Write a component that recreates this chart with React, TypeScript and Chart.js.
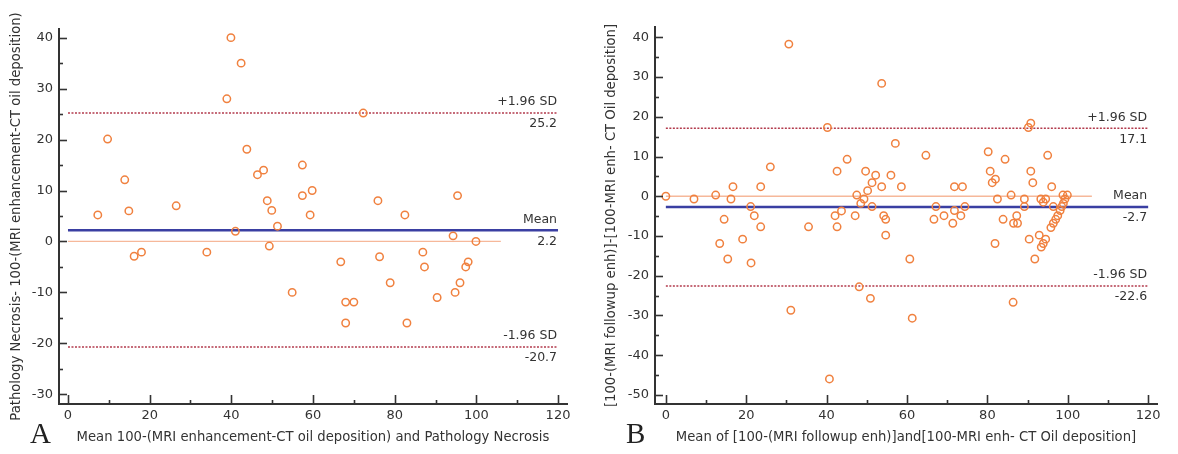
import React, { useEffect, useRef } from "react";
import { Chart, registerables } from "chart.js";

Chart.register(...registerables);

// ---------- Data: panel A ----------
const leftMeanX = [7.3, 9.7, 13.9, 14.9, 16.2, 18.0, 26.5, 34.0, 38.9, 39.9, 41.0, 42.4, 43.8, 46.4, 47.9, 48.8, 49.3, 49.9, 51.3, 54.9, 57.4, 57.4, 59.3, 59.8, 66.8, 68.0, 68.0, 70.0, 72.3, 75.9, 76.3, 78.9, 82.5, 83.0, 86.9, 87.3, 90.4, 94.3, 94.8, 95.4, 96.0, 97.4, 98.0, 99.9];
const leftDiffY = [5.2, 20.1, 12.1, 6.0, -2.9, -2.1, 7.0, -2.1, 28.0, 40.0, 2.0, 35.0, 18.1, 13.1, 14.0, 8.0, -0.9, 6.1, 3.0, -10.0, 15.0, 9.0, 5.2, 10.0, -4.0, -11.9, -16.0, -11.9, 25.2, 8.0, -3.0, -8.1, 5.2, -16.0, -2.1, -5.0, -11.0, 1.1, -10.0, 9.0, -8.1, -5.0, -4.0, 0.0];
const leftLimits = [25.2, 2.2, -20.7];

// ---------- Data: panel B ----------
const rightMeanX = [0, 7.0, 12.4, 13.4, 14.5, 15.4, 16.2, 16.7, 19.1, 21.1, 21.2, 22.0, 23.6, 23.6, 26.0, 30.6, 31.1, 35.5, 40.2, 40.7, 42.1, 42.6, 42.6, 43.7, 45.1, 47.1, 47.5, 48.1, 48.5, 49.3, 49.7, 50.2, 50.9, 51.3, 51.3, 52.2, 53.7, 53.7, 54.2, 54.7, 54.7, 56.0, 57.1, 58.6, 60.7, 61.3, 64.7, 66.7, 67.2, 69.2, 71.4, 71.8, 71.8, 73.4, 73.8, 74.4, 80.2, 80.7, 81.2, 81.9, 82.0, 82.5, 83.9, 84.4, 85.9, 86.4, 86.5, 87.3, 87.5, 89.2, 89.2, 90.2, 90.4, 90.8, 90.8, 91.3, 91.8, 92.9, 93.3, 93.4, 93.9, 93.9, 94.5, 94.5, 95.0, 96.0, 96.4, 95.8, 96.4, 97.0, 97.5, 98.1, 98.5, 98.9, 99.3, 98.8, 99.9];
const rightDiffY = [0, -0.7, 0.3, -11.9, -5.8, -15.8, -0.7, 2.4, -10.8, -2.6, -16.8, -4.9, 2.4, -7.7, 7.4, 38.3, -28.7, -7.7, 17.3, -46.0, -4.9, -7.7, 6.3, -3.7, 9.3, -4.9, 0.3, -22.8, -1.8, -0.7, 6.3, 1.4, -25.7, 3.4, -2.6, 5.3, 2.4, 28.4, -4.9, -5.8, -9.8, 5.3, 13.3, 2.4, -15.8, -30.7, 10.3, -5.8, -2.6, -4.9, -6.8, 2.4, -3.6, -4.9, 2.4, -2.6, 11.2, 6.3, 3.4, -11.9, 4.3, -0.7, -5.8, 9.3, 0.3, -26.7, -6.8, -4.9, -6.8, -0.7, -2.6, 17.3, -10.8, 18.4, 6.3, 3.4, -15.8, -9.8, -0.7, -12.8, -1.5, -11.9, -0.7, -10.8, 10.3, 2.4, -2.6, -7.9, -6.8, -5.8, -4.9, -3.6, -2.6, -1.8, -0.7, 0.3, 0.3];
const rightLimits = [17.1, -2.7, -22.6];

// ---------- Labels / ticks ----------
const limitNames = ["+1.96 SD", "Mean", "-1.96 SD"];
const xTickValues = [0, 20, 40, 60, 80, 100, 120];
const leftYTickValues = [-30, -20, -10, 0, 10, 20, 30, 40];
const rightYTickValues = [-50, -40, -30, -20, -10, 0, 10, 20, 30, 40];
const zeroLineEnd = 106;
const limitLineStart = 0;
const limitLineEnd = 120;

const leftTitles = {
  x: "Mean 100-(MRI enhancement-CT oil deposition) and Pathology Necrosis",
  y: "Pathology Necrosis- 100-(MRI enhancement-CT oil deposition)",
};
const rightTitles = {
  x: "Mean of [100-(MRI followup enh)]and[100-MRI enh- CT Oil deposition]",
  y: "[100-(MRI followup enh)]-[100-MRI enh- CT Oil deposition]",
};

const ORANGE = "#f0813f";
const BLUE = "#3a3fa2";
const SALMON = "#f6b89a";
const SDRED = "#b23a4c";
const AXIS = "#333333";
const FONT = "'DejaVu Sans', sans-serif";
const TITLE_SIZE = 13.2;

const innerTicksPlugin = {
  id: "innerTicks",
  afterDraw(chart: any) {
    const ctx = chart.ctx;
    const xs = chart.scales.x;
    const ys = chart.scales.y;
    const area = chart.chartArea;
    ctx.save();
    ctx.strokeStyle = AXIS;
    ctx.lineWidth = 1.6;
    const xv = xs.ticks.map((t: any) => t.value);
    const yv = ys.ticks.map((t: any) => t.value);
    const seg = (a: number, b: number, c: number, d: number) => {
      ctx.beginPath();
      ctx.moveTo(a, b);
      ctx.lineTo(c, d);
      ctx.stroke();
    };
    xv.forEach((v: number, i: number) => {
      const p = Math.round(xs.getPixelForValue(v)) + 0.5;
      seg(p, area.bottom, p, area.bottom - 9);
      if (i < xv.length - 1) {
        const m = Math.round(xs.getPixelForValue((v + xv[i + 1]) / 2)) + 0.5;
        seg(m, area.bottom, m, area.bottom - 4);
      }
    });
    yv.forEach((v: number, i: number) => {
      const p = Math.round(ys.getPixelForValue(v)) + 0.5;
      seg(area.left, p, area.left + 8, p);
      if (i < yv.length - 1) {
        const m = Math.round(ys.getPixelForValue((v + yv[i + 1]) / 2)) + 0.5;
        seg(area.left, m, area.left + 4, m);
      }
    });
    ctx.restore();
  },
};

const limitLabelsPlugin = {
  id: "limitLabels",
  afterDraw(chart: any, _args: any, opts: any) {
    const ctx = chart.ctx;
    const xs = chart.scales.x;
    const ys = chart.scales.y;
    const limits: number[] = opts.limits;
    ctx.save();
    ctx.fillStyle = AXIS;
    ctx.font = `12.5px ${FONT}`;
    ctx.textAlign = "right";
    ctx.textBaseline = "middle";
    const xr = xs.getPixelForValue(limitLineEnd) - 1;
    limits.forEach((v, i) => {
      const py = ys.getPixelForValue(v);
      ctx.fillText(limitNames[i], xr, py - 11);
      ctx.fillText(v.toFixed(1), xr, py + 11);
    });
    ctx.restore();
  },
};

function buildConfig(
  xsData: number[],
  ysData: number[],
  limits: number[],
  yTicks: number[],
  xRange: [number, number],
  yRange: [number, number],
  titles: { x: string; y: string },
  layoutPad: { top: number; right: number },
  yWidth: number,
  yTitlePad: number
): any {
  const pts = xsData.map((x, i) => ({ x, y: ysData[i] }));
  const hline = (v: number, x0: number, x1: number) => [
    { x: x0, y: v },
    { x: x1, y: v },
  ];
  return {
    type: "scatter",
    data: {
      datasets: [
        {
          data: pts,
          pointStyle: "circle",
          pointRadius: 3.7,
          pointBorderWidth: 1.5,
          borderColor: ORANGE,
          backgroundColor: "rgba(0,0,0,0)",
          showLine: false,
        },
        {
          data: hline(limits[1], limitLineStart, limitLineEnd),
          showLine: true,
          borderColor: BLUE,
          borderWidth: 2.5,
          pointRadius: 0,
        },
        {
          data: hline(limits[0], limitLineStart, limitLineEnd),
          showLine: true,
          borderColor: SDRED,
          borderWidth: 1.4,
          borderDash: [2, 1.5],
          pointRadius: 0,
        },
        {
          data: hline(limits[2], limitLineStart, limitLineEnd),
          showLine: true,
          borderColor: SDRED,
          borderWidth: 1.4,
          borderDash: [2, 1.5],
          pointRadius: 0,
        },
        {
          data: hline(0, 0, zeroLineEnd),
          showLine: true,
          borderColor: SALMON,
          borderWidth: 1.3,
          pointRadius: 0,
        },
      ],
    },
    options: {
      responsive: false,
      animation: false,
      devicePixelRatio: 1,
      layout: { padding: { left: 0, top: layoutPad.top, right: layoutPad.right, bottom: 0 } },
      plugins: {
        legend: { display: false },
        tooltip: { enabled: false },
        limitLabels: { limits },
      },
      scales: {
        x: {
          type: "linear",
          min: xRange[0],
          max: xRange[1],
          afterBuildTicks: (s: any) => {
            s.ticks = xTickValues.map((v) => ({ value: v }));
          },
          afterFit: (s: any) => {
            s.height = 50;
          },
          grid: { display: false, drawTicks: false },
          border: { display: true, color: AXIS, width: 2 },
          ticks: {
            padding: 4,
            color: AXIS,
            font: { family: FONT, size: 13 },
            maxRotation: 0,
            autoSkip: false,
          },
          title: {
            display: true,
            text: titles.x,
            color: AXIS,
            font: { family: FONT, size: TITLE_SIZE },
            padding: { top: 0, bottom: 9 },
          },
        },
        y: {
          type: "linear",
          min: yRange[0],
          max: yRange[1],
          afterBuildTicks: (s: any) => {
            s.ticks = yTicks.map((v) => ({ value: v }));
          },
          afterFit: (s: any) => {
            s.width = yWidth;
          },
          grid: { display: false, drawTicks: false },
          border: { display: true, color: AXIS, width: 2 },
          ticks: {
            padding: 6,
            color: AXIS,
            font: { family: FONT, size: 13 },
            autoSkip: false,
          },
          title: {
            display: true,
            text: titles.y,
            color: AXIS,
            font: { family: FONT, size: TITLE_SIZE },
            padding: { top: yTitlePad, bottom: 0 },
          },
        },
      },
    },
    plugins: [innerTicksPlugin, limitLabelsPlugin],
  };
}

function Panel(props: { config: any; left: number }) {
  const ref = useRef<HTMLCanvasElement | null>(null);
  useEffect(() => {
    if (!ref.current) return;
    const chart = new Chart(ref.current, props.config);
    return () => chart.destroy();
  }, []);
  return (
    <canvas
      ref={ref}
      width={589}
      height={454}
      style={{ position: "absolute", left: props.left, top: 0, width: 589, height: 454 }}
    />
  );
}

const letterStyle: React.CSSProperties = {
  position: "absolute",
  top: 419,
  fontFamily: "'Liberation Serif', 'DejaVu Serif', serif",
  fontSize: 29,
  lineHeight: "29px",
  color: "#222",
};

export default function App() {
  const leftConfig = buildConfig(
    leftMeanX,
    leftDiffY,
    leftLimits,
    leftYTickValues,
    [-2.2, 122.2],
    [-31.9, 41.7],
    leftTitles,
    { top: 29, right: 22 },
    59,
    9
  );
  const rightConfig = buildConfig(
    rightMeanX,
    rightDiffY,
    rightLimits,
    rightYTickValues,
    [-2.7, 122.2],
    [-52.3, 42.6],
    rightTitles,
    { top: 27, right: 21 },
    66,
    14.5
  );
  return (
    <div style={{ position: "absolute", left: 0, top: 0, width: 1178, height: 454, background: "#fff" }}>
      <Panel config={leftConfig} left={0} />
      <Panel config={rightConfig} left={589} />
      <div style={{ ...letterStyle, left: 30 }}>A</div>
      <div style={{ ...letterStyle, left: 626 }}>B</div>
    </div>
  );
}
